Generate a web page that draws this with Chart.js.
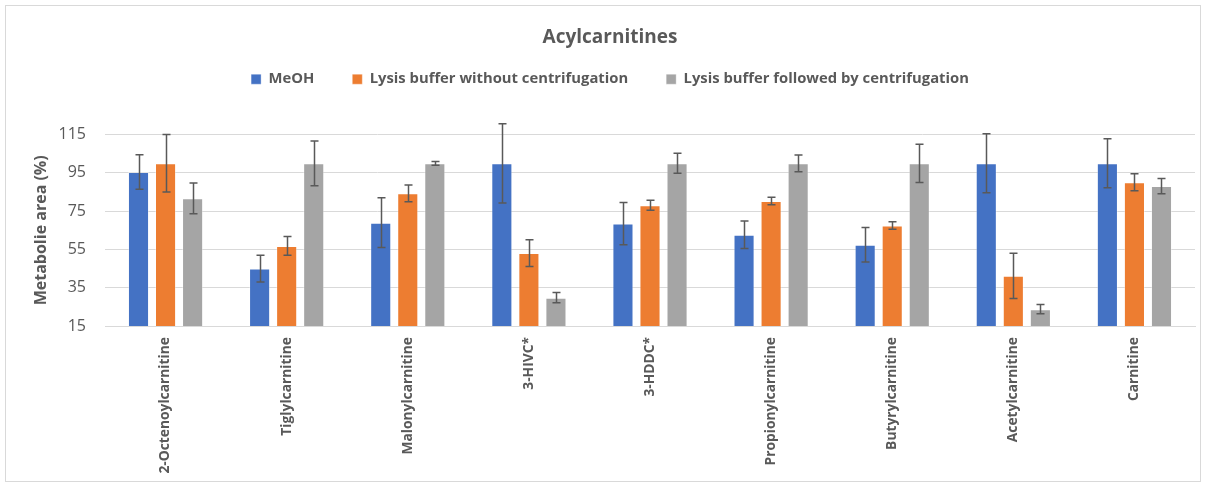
<!DOCTYPE html>
<html>
<head>
<meta charset="utf-8">
<script src="https://cdn.jsdelivr.net/npm/chart.js@4.4.1/dist/chart.umd.min.js"></script>
<style>
  html, body { margin: 0; padding: 0; background: #ffffff; }
  #wrap { position: relative; width: 1206px; height: 486px; }
  #frame { position: absolute; left: 5px; top: 5px; width: 1194px; height: 475px; border: 1px solid #d9d9d9; pointer-events: none; }
</style>
</head>
<body>
<div id="wrap">
  <canvas id="chart" width="1206" height="486"></canvas>
  <div id="frame"></div>
</div>
<script>
// Acylcarnitine recovery per extraction method (% of best method), with SD
const categories = ['2-Octenoylcarnitine', 'Tiglylcarnitine', 'Malonylcarnitine', '3-HIVC*', '3-HDDC*',
  'Propionylcarnitine', 'Butyrylcarnitine', 'Acetylcarnitine', 'Carnitine'];
const seriesNames = ['MeOH', 'Lysis buffer without centrifugation', 'Lysis buffer followed by centrifugation'];
const meohValues   = [95.5, 45.0, 69.0, 100, 68.5, 62.7, 57.5, 100, 100];
const meohErrors   = [9.0, 7.0, 13.0, 20.7, 11.0, 7.2, 9.0, 15.4, 12.8];
const lysisValues  = [100, 56.8, 84.3, 53.1, 78.1, 80.3, 67.5, 41.2, 90.1];
const lysisErrors  = [15.0, 4.9, 4.4, 7.0, 2.6, 2.0, 2.0, 11.8, 4.5];
const centrValues  = [81.7, 100, 100, 29.8, 100, 100, 100, 23.8, 88.1];
const centrErrors  = [8.0, 11.7, 1.0, 2.7, 5.2, 4.4, 10.0, 2.4, 4.0];
const yTicks = [15, 35, 55, 75, 95, 115];

const FONT = "'Open Sans', 'DejaVu Sans', sans-serif";
const TEXT = '#595959';

// draws the symmetric standard-deviation whiskers on top of each bar
const errorBars = {
  id: 'errorBars',
  afterDatasetsDraw(chart) {
    const ctx = chart.ctx;
    const y = chart.scales.y;
    ctx.save();
    ctx.strokeStyle = '#595959';
    ctx.lineWidth = 1.5;
    chart.data.datasets.forEach((ds, i) => {
      const meta = chart.getDatasetMeta(i);
      meta.data.forEach((bar, j) => {
        const v = ds.data[j], e = ds.errors[j];
        const x = Math.round(bar.x) + 0.5;
        const top = y.getPixelForValue(v + e);
        const bot = y.getPixelForValue(v - e);
        ctx.beginPath();
        ctx.moveTo(x, top); ctx.lineTo(x, bot);
        ctx.moveTo(x - 4, top); ctx.lineTo(x + 4, top);
        ctx.moveTo(x - 4, bot); ctx.lineTo(x + 4, bot);
        ctx.stroke();
      });
    });
    ctx.restore();
  }
};

const makeSet = (label, data, errors, color) => ({
  label, data, errors,
  backgroundColor: color,
  borderColor: 'rgba(255,255,255,0.35)',
  borderWidth: 1,
  barPercentage: 0.78,
  categoryPercentage: 0.67
});

new Chart(document.getElementById('chart'), {
  type: 'bar',
  data: {
    labels: categories,
    datasets: [
      makeSet(seriesNames[0], meohValues, meohErrors, '#4472C4'),
      makeSet(seriesNames[1], lysisValues, lysisErrors, '#ED7D31'),
      makeSet(seriesNames[2], centrValues, centrErrors, '#A5A5A5')
    ]
  },
  options: {
    responsive: false,
    animation: false,
    devicePixelRatio: 1,
    layout: { padding: { top: 0, right: 11, bottom: 0, left: 25 } },
    plugins: {
      title: {
        display: true,
        text: 'Acylcarnitines',
        color: TEXT,
        font: { family: FONT, size: 19, weight: 'bold' },
        padding: { top: 26, bottom: -15 }
      },
      // blank spacer between the legend and the plot area
      subtitle: {
        display: true,
        text: ' ',
        weight: 500,
        font: { family: FONT, size: 10, lineHeight: 1 },
        padding: { top: 0, bottom: 28 }
      },
      legend: {
        display: true,
        labels: {
          color: TEXT,
          font: { family: FONT, size: 14.8, weight: 'bold' },
          boxWidth: 10,
          boxHeight: 10,
          padding: 38
        }
      },
      tooltip: { enabled: false }
    },
    scales: {
      x: {
        grid: { display: false, drawTicks: false },
        border: { color: '#d9d9d9', width: 1 },
        ticks: {
          color: TEXT,
          font: { family: FONT, size: 13.8, weight: 'bold' },
          minRotation: 90,
          maxRotation: 90,
          padding: 11,
          autoSkip: false
        },
        afterFit(scale) { scale.height = 160; }
      },
      y: {
        min: yTicks[0],
        max: yTicks[yTicks.length - 1],
        afterBuildTicks(scale) { scale.ticks = yTicks.map(v => ({ value: v })); },
        grid: { color: '#d9d9d9', lineWidth: 1, drawTicks: false },
        border: { display: false },
        ticks: {
          color: TEXT,
          font: { family: FONT, size: 16 },
          padding: 19
        },
        title: {
          display: true,
          text: 'Metabolie area (%)',
          color: TEXT,
          font: { family: FONT, size: 16, weight: 'bold' },
          padding: { top: 7, bottom: 0 }
        },
        afterFit(scale) { scale.width = 80; }
      }
    }
  },
  plugins: [errorBars]
});
</script>
</body>
</html>
